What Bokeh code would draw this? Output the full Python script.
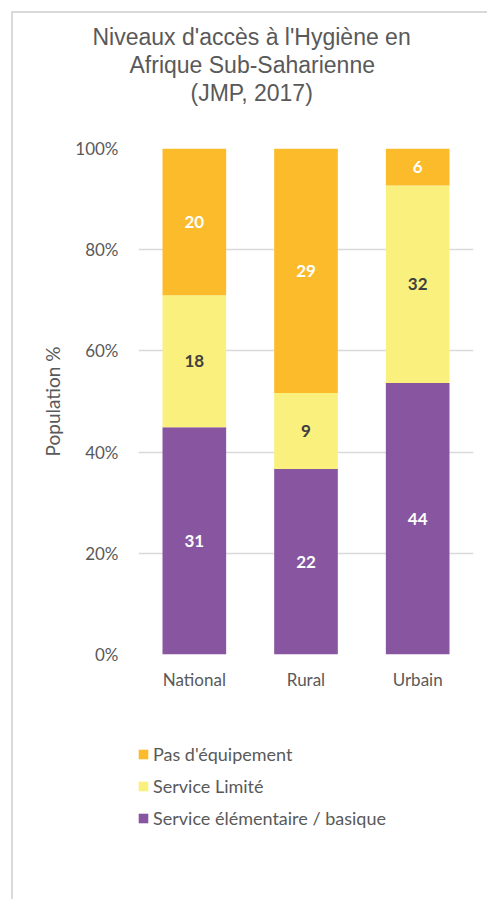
from bokeh.plotting import figure
from bokeh.layouts import column
from bokeh.models import ColumnDataSource, NumeralTickFormatter, Legend, LegendItem, Title
from bokeh.core.properties import value
from bokeh.embed import file_html
from bokeh.resources import INLINE

categories = ["National", "Rural", "Urbain"]
basique = [31, 22, 44]
limite = [18, 9, 32]
pas_equip = [20, 29, 6]
series_names = ["Service élémentaire / basique", "Service Limité", "Pas d'équipement"]
colors = ["#8856A0", "#F9F07D", "#FCBB2B"]
label_colors = ["#FFFFFF", "#404040", "#FFFFFF"]
title_lines = ["Niveaux d'accès à l'Hygiène en", "Afrique Sub-Saharienne", "(JMP, 2017)"]
title_offsets = [-46, -9, 52]

totals = [a + b + c for a, b, c in zip(basique, limite, pas_equip)]
raw = [basique, limite, pas_equip]
keys = ["s0", "s1", "s2"]
data = {"cat": categories}
for k, r in zip(keys, raw):
    data[k] = [v / t for v, t in zip(r, totals)]
source = ColumnDataSource(data)

p = figure(x_range=categories, y_range=(0, 1), frame_width=335, frame_height=506,
           output_backend="svg", toolbar_location=None,
           min_border_left=125, min_border_right=14, min_border_top=135, min_border_bottom=60,
           outline_line_color=None)

renderers = p.vbar_stack(keys, x="cat", width=0.57, color=colors, line_color=None, source=source)

for i, (k, r) in enumerate(zip(keys, raw)):
    mids = []
    for j in range(len(categories)):
        b = sum(data[keys[m]][j] for m in range(i))
        mids.append(b + data[k][j] / 2)
    lsrc = ColumnDataSource(dict(x=categories, y=mids, t=[str(v) for v in r]))
    p.text(x="x", y="y", text="t", source=lsrc, text_align="center", text_baseline="middle",
           text_font=value("Lato"), text_font_style="bold", text_font_size="17px",
           text_color=label_colors[i])

# spacer between title and plot frame
p.add_layout(Title(text=" ", text_font_size="10px", standoff=30), "above")
for line, off in zip(reversed(title_lines), reversed(title_offsets)):
    p.add_layout(Title(text=line, align="left", offset=off, standoff=0,
                       text_font="Liberation Sans", text_font_size="23px",
                       text_font_style="normal", text_color="#595959"), "above")

p.yaxis.formatter = NumeralTickFormatter(format="0%")
p.yaxis.ticker = [0, 0.2, 0.4, 0.6, 0.8, 1.0]
p.yaxis.axis_line_color = None
p.yaxis.major_tick_line_color = None
p.yaxis.minor_tick_line_color = None
p.yaxis.major_label_standoff = 14
p.yaxis.major_label_text_font = "Lato"
p.yaxis.major_label_text_font_size = "17px"
p.yaxis.major_label_text_color = "#595959"
p.yaxis.axis_label = "Population %"
p.yaxis.axis_label_text_font = "Lato"
p.yaxis.axis_label_text_font_size = "19px"
p.yaxis.axis_label_text_font_style = "normal"
p.yaxis.axis_label_text_color = "#595959"
p.yaxis.axis_label_standoff = 8

p.xaxis.axis_line_color = None
p.xaxis.major_tick_line_color = None
p.xaxis.major_label_standoff = 8
p.xaxis.major_label_text_font = "Lato"
p.xaxis.major_label_text_font_size = "17px"
p.xaxis.major_label_text_color = "#595959"

p.xgrid.grid_line_color = None
p.ygrid.grid_line_color = "#d9d9d9"
p.ygrid.grid_line_width = 1.5
p.x_range.range_padding = 0.0

# legend panel (second figure, same colours and names; zero-height swatch glyphs)
pl = figure(width=474, height=185, output_backend="svg", toolbar_location=None,
            x_axis_type=None, y_axis_type=None, outline_line_color=None,
            min_border=0, min_border_left=0, min_border_right=0, min_border_top=0, min_border_bottom=0)
legend_renderers = [pl.vbar(x=[0], top=[0], bottom=[0], width=0.5, fill_color=c, line_color=None)
                    for c in colors]
items = [LegendItem(label=series_names[i], renderers=[legend_renderers[i]]) for i in [2, 1, 0]]
legend = Legend(items=items, orientation="vertical", location=(-1, 70),
                label_text_font="Lato", label_text_font_size="18px", label_text_color="#595959",
                glyph_width=12, glyph_height=12, label_standoff=4, spacing=10,
                border_line_color=None, background_fill_alpha=0, padding=0, margin=0)
pl.add_layout(legend, "center")

layout = column(p, pl, spacing=0)
layout.styles = {"margin-left": "11px", "margin-top": "11px",
                 "border-left": "2px solid #d9d9d9", "border-top": "2px solid #d9d9d9"}

open("out.html", "w").write(file_html(layout, INLINE))
